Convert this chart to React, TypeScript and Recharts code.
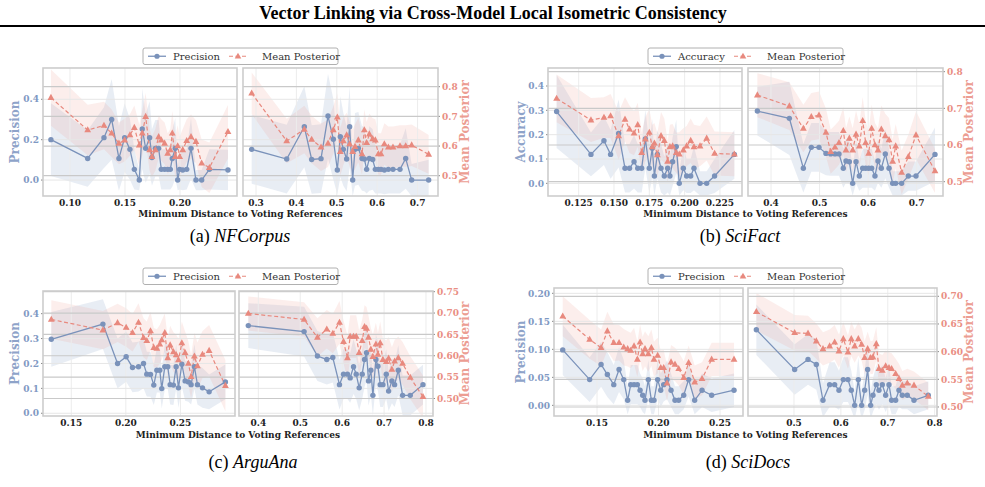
import { Area, ComposedChart, Line, ReferenceLine, XAxis, YAxis } from "recharts";

const BLUE = "#7a92ba";
const RED = "#e8897e";
const BLUE_TXT = "#7f99c3";
const RED_TXT = "#e98e83";
const SERIF = "DejaVu Serif";

// ---- NFCorpus ----
const nfLeftX = [0.0827, 0.1161, 0.1309, 0.1379, 0.1445, 0.1497, 0.1545, 0.1585, 0.163, 0.1657, 0.1688, 0.1724, 0.1745, 0.1776, 0.1806, 0.183, 0.186, 0.1888, 0.1912, 0.193, 0.1957, 0.1979, 0.1997, 0.2025, 0.2061, 0.21, 0.2145, 0.2197, 0.2267, 0.2436];
const nfLeftPrec = [0.2, 0.107, 0.21, 0.3, 0.107, 0.21, 0.152, 0.053, 0, 0.253, 0.157, 0.21, 0.112, 0.157, 0.157, 0.053, 0.053, 0.053, 0.053, 0.107, 0.157, 0, 0.053, 0.05, 0.053, 0.157, 0, 0, 0.053, 0.05];
const nfLeftPost = [0.763, 0.654, 0.669, 0.643, 0.609, 0.62, 0.637, 0.662, 0.603, 0.643, 0.699, 0.587, 0.564, 0.587, 0.631, 0.62, 0.609, 0.575, 0.587, 0.643, 0.564, 0.6, 0.564, 0.587, 0.618, 0.631, 0.615, 0.542, 0.527, 0.648];
const nfLeftPrecErr = [0.18, 0.14, 0.15, 0.2, 0.16, 0.17, 0.15, 0.1, 0.05, 0.2, 0.17, 0.18, 0.14, 0.14, 0.14, 0.1, 0.1, 0.1, 0.1, 0.14, 0.15, 0.05, 0.1, 0.1, 0.1, 0.15, 0.05, 0.05, 0.1, 0.1];
const nfLeftPostErr = [0.095, 0.085, 0.08, 0.08, 0.07, 0.072, 0.07, 0.075, 0.07, 0.075, 0.08, 0.07, 0.068, 0.07, 0.072, 0.07, 0.07, 0.068, 0.07, 0.075, 0.07, 0.07, 0.068, 0.07, 0.072, 0.075, 0.072, 0.08, 0.085, 0.09];

const nfRightX = [0.2893, 0.376, 0.4196, 0.4378, 0.4609, 0.4782, 0.4914, 0.5013, 0.5087, 0.5162, 0.5244, 0.5318, 0.5393, 0.545, 0.5533, 0.5624, 0.5682, 0.5739, 0.5805, 0.5888, 0.5954, 0.6028, 0.6094, 0.6177, 0.6276, 0.6391, 0.6564, 0.6705, 0.6853, 0.7274];
const nfRightPrec = [0.152, 0.104, 0.264, 0.102, 0.106, 0.317, 0.202, 0.05, 0.215, 0.152, 0.104, 0.264, 0, 0.152, 0.157, 0.107, 0.104, 0.053, 0.107, 0.102, 0.053, 0.053, 0.053, 0.05, 0.053, 0.053, 0.053, 0.107, 0, 0];
const nfRightPost = [0.778, 0.617, 0.656, 0.622, 0.596, 0.609, 0.654, 0.697, 0.581, 0.617, 0.637, 0.607, 0.581, 0.598, 0.62, 0.573, 0.654, 0.611, 0.64, 0.624, 0.62, 0.573, 0.573, 0.607, 0.596, 0.596, 0.6, 0.6, 0.603, 0.572];
const nfRightPrecErr = [0.17, 0.17, 0.2, 0.17, 0.17, 0.21, 0.2, 0.12, 0.2, 0.18, 0.16, 0.2, 0.08, 0.18, 0.18, 0.16, 0.16, 0.12, 0.16, 0.15, 0.12, 0.12, 0.12, 0.12, 0.12, 0.12, 0.12, 0.15, 0.08, 0.1];
const nfRightPostErr = [0.07, 0.075, 0.08, 0.08, 0.08, 0.08, 0.08, 0.08, 0.08, 0.08, 0.075, 0.075, 0.075, 0.075, 0.075, 0.07, 0.07, 0.07, 0.07, 0.07, 0.07, 0.07, 0.07, 0.07, 0.07, 0.07, 0.07, 0.07, 0.07, 0.065];

// ---- SciFact ----
const sfLeftX = [0.1094, 0.1337, 0.1429, 0.1476, 0.1533, 0.1578, 0.161, 0.1642, 0.1668, 0.1696, 0.1722, 0.175, 0.1771, 0.1786, 0.1807, 0.1833, 0.1856, 0.188, 0.1896, 0.1915, 0.1941, 0.1962, 0.1991, 0.2014, 0.2043, 0.2066, 0.2109, 0.2156, 0.2212, 0.2352];
const sfLeftAcc = [0.295, 0.119, 0.175, 0.119, 0.205, 0.062, 0.062, 0.089, 0.062, 0.062, 0.182, 0.062, 0.144, 0.03, 0.119, 0.062, 0.03, 0.062, 0.03, 0.089, 0.151, 0, 0.062, 0.03, 0.03, 0.062, 0, 0, 0.03, 0.119];
const sfLeftPost = [0.727, 0.668, 0.675, 0.679, 0.625, 0.67, 0.643, 0.632, 0.655, 0.579, 0.616, 0.634, 0.595, 0.605, 0.573, 0.625, 0.612, 0.555, 0.595, 0.597, 0.579, 0.575, 0.586, 0.597, 0.612, 0.595, 0.597, 0.618, 0.577, 0.575];
const sfLeftAccErr = [0.15, 0.09, 0.1, 0.1, 0.14, 0.1, 0.1, 0.11, 0.1, 0.1, 0.12, 0.1, 0.12, 0.08, 0.1, 0.1, 0.08, 0.1, 0.08, 0.1, 0.11, 0.05, 0.09, 0.07, 0.07, 0.09, 0.05, 0.05, 0.07, 0.1];
const sfLeftPostErr = [0.065, 0.06, 0.055, 0.06, 0.065, 0.06, 0.065, 0.06, 0.06, 0.055, 0.06, 0.065, 0.06, 0.055, 0.06, 0.065, 0.06, 0.055, 0.06, 0.06, 0.055, 0.06, 0.06, 0.055, 0.06, 0.06, 0.055, 0.06, 0.06, 0.06];

const sfRightX = [0.3719, 0.4378, 0.4666, 0.483, 0.4988, 0.5132, 0.5229, 0.5318, 0.54, 0.5489, 0.5544, 0.5613, 0.5682, 0.5751, 0.5819, 0.5888, 0.5949, 0.6011, 0.6073, 0.6141, 0.6203, 0.6272, 0.6354, 0.643, 0.6505, 0.6567, 0.669, 0.6828, 0.6986, 0.7377];
const sfRightAcc = [0.297, 0.267, 0.062, 0.148, 0.148, 0.123, 0.121, 0.121, 0.121, 0.062, 0.092, 0.089, 0, 0.089, 0.03, 0.062, 0.062, 0.062, 0.062, 0.03, 0.092, 0.062, 0.121, 0.062, 0, 0, 0, 0.03, 0.03, 0.119];
const sfRightPost = [0.736, 0.706, 0.645, 0.677, 0.681, 0.634, 0.582, 0.594, 0.606, 0.639, 0.586, 0.618, 0.586, 0.629, 0.597, 0.666, 0.606, 0.577, 0.645, 0.6, 0.586, 0.643, 0.625, 0.614, 0.555, 0.597, 0.525, 0.568, 0.627, 0.529];
const sfRightAccErr = [0.1, 0.15, 0.1, 0.1, 0.1, 0.09, 0.09, 0.09, 0.09, 0.08, 0.09, 0.09, 0.05, 0.09, 0.06, 0.08, 0.08, 0.08, 0.08, 0.06, 0.09, 0.08, 0.1, 0.08, 0.05, 0.05, 0.05, 0.06, 0.06, 0.11];
const sfRightPostErr = [0.06, 0.065, 0.065, 0.065, 0.065, 0.065, 0.06, 0.06, 0.06, 0.065, 0.06, 0.06, 0.06, 0.065, 0.06, 0.065, 0.06, 0.06, 0.065, 0.06, 0.06, 0.065, 0.06, 0.06, 0.06, 0.06, 0.06, 0.06, 0.065, 0.06];

// ---- ArguAna ----
const aaLeftX = [0.1317, 0.179, 0.1924, 0.2003, 0.2061, 0.2116, 0.2162, 0.2192, 0.2226, 0.2256, 0.2284, 0.2311, 0.2329, 0.2357, 0.2384, 0.2406, 0.2436, 0.2461, 0.2482, 0.2513, 0.2543, 0.2573, 0.2598, 0.2628, 0.2656, 0.2702, 0.2763, 0.2912];
const aaLeftPrec = [0.297, 0.358, 0.2, 0.227, 0.184, 0.187, 0.2, 0.157, 0.156, 0.113, 0.173, 0.173, 0.099, 0.187, 0.187, 0.115, 0.113, 0.187, 0.102, 0.197, 0.13, 0.126, 0.115, 0.187, 0.115, 0.102, 0.086, 0.126];
const aaLeftPost = [0.685, 0.66, 0.677, 0.666, 0.654, 0.678, 0.642, 0.635, 0.658, 0.619, 0.617, 0.627, 0.637, 0.654, 0.595, 0.625, 0.609, 0.602, 0.59, 0.63, 0.607, 0.582, 0.551, 0.599, 0.576, 0.603, 0.612, 0.53];
const aaLeftPrecErr = [0.11, 0.1, 0.1, 0.1, 0.1, 0.1, 0.1, 0.09, 0.09, 0.08, 0.09, 0.09, 0.08, 0.09, 0.09, 0.08, 0.08, 0.09, 0.08, 0.09, 0.08, 0.08, 0.08, 0.09, 0.08, 0.08, 0.07, 0.07];
const aaLeftPostErr = [0.045, 0.045, 0.045, 0.045, 0.044, 0.045, 0.046, 0.045, 0.045, 0.046, 0.045, 0.045, 0.046, 0.045, 0.046, 0.045, 0.046, 0.047, 0.05, 0.05, 0.05, 0.052, 0.05, 0.055, 0.055, 0.055, 0.06, 0.06];

const aaRightX = [0.3761, 0.5092, 0.541, 0.5633, 0.5777, 0.5936, 0.6032, 0.6127, 0.6191, 0.6271, 0.6335, 0.6406, 0.6478, 0.6534, 0.6582, 0.6629, 0.6685, 0.6733, 0.6805, 0.6853, 0.6908, 0.6972, 0.7052, 0.7108, 0.7187, 0.7251, 0.7339, 0.7442, 0.7625, 0.7928];
const aaRightPrec = [0.352, 0.328, 0.23, 0.216, 0.224, 0.115, 0.157, 0.157, 0.142, 0.187, 0.157, 0.102, 0.157, 0.216, 0.243, 0.13, 0.173, 0.072, 0.216, 0.189, 0.115, 0.115, 0.157, 0.089, 0.13, 0.115, 0.173, 0.072, 0.072, 0.115];
const aaRightPost = [0.699, 0.685, 0.643, 0.662, 0.652, 0.678, 0.633, 0.595, 0.645, 0.645, 0.645, 0.607, 0.635, 0.668, 0.664, 0.643, 0.615, 0.598, 0.627, 0.603, 0.63, 0.591, 0.586, 0.594, 0.568, 0.587, 0.595, 0.582, 0.549, 0.504];
const aaRightPrecErr = [0.09, 0.1, 0.1, 0.1, 0.1, 0.1, 0.1, 0.1, 0.1, 0.11, 0.1, 0.09, 0.1, 0.11, 0.11, 0.1, 0.1, 0.08, 0.1, 0.1, 0.09, 0.09, 0.1, 0.08, 0.09, 0.09, 0.1, 0.08, 0.08, 0.08];
const aaRightPostErr = [0.04, 0.04, 0.045, 0.045, 0.046, 0.05, 0.05, 0.052, 0.05, 0.05, 0.05, 0.052, 0.05, 0.05, 0.05, 0.05, 0.05, 0.052, 0.05, 0.05, 0.05, 0.05, 0.05, 0.05, 0.052, 0.05, 0.05, 0.05, 0.05, 0.05];

// ---- SciDocs ----
const sdLeftX = [0.1221, 0.144, 0.1533, 0.1584, 0.1636, 0.1679, 0.1717, 0.1749, 0.1774, 0.1801, 0.1828, 0.185, 0.1871, 0.189, 0.1917, 0.1942, 0.1963, 0.1993, 0.2018, 0.2042, 0.2069, 0.2102, 0.2134, 0.2164, 0.2205, 0.2245, 0.2294, 0.2354, 0.2432, 0.2614];
const sdLeftPrec = [0.099, 0.046, 0.073, 0.055, 0.037, 0.064, 0.046, 0.009, 0.037, 0.037, 0.037, 0.027, 0.018, 0.009, 0.046, 0.009, 0.009, 0.046, 0.027, 0.037, 0.046, 0.027, 0.009, 0.009, 0.018, 0.046, 0.009, 0.027, 0.018, 0.027];
const sdLeftPost = [0.664, 0.622, 0.607, 0.637, 0.616, 0.616, 0.608, 0.605, 0.602, 0.61, 0.586, 0.617, 0.596, 0.605, 0.596, 0.607, 0.586, 0.593, 0.571, 0.571, 0.543, 0.581, 0.577, 0.569, 0.553, 0.58, 0.545, 0.551, 0.586, 0.586];
const sdLeftPrecErr = [0.045, 0.04, 0.04, 0.04, 0.035, 0.04, 0.035, 0.025, 0.035, 0.035, 0.035, 0.03, 0.03, 0.025, 0.035, 0.025, 0.025, 0.035, 0.03, 0.03, 0.035, 0.03, 0.025, 0.025, 0.025, 0.03, 0.025, 0.03, 0.03, 0.03];
const sdLeftPostErr = [0.036, 0.035, 0.033, 0.035, 0.033, 0.032, 0.033, 0.032, 0.032, 0.033, 0.032, 0.032, 0.031, 0.032, 0.032, 0.033, 0.032, 0.032, 0.031, 0.032, 0.032, 0.031, 0.03, 0.03, 0.03, 0.031, 0.03, 0.03, 0.03, 0.03];

const sdRightX = [0.4197, 0.5014, 0.5299, 0.5476, 0.5618, 0.576, 0.5867, 0.5959, 0.6052, 0.6151, 0.6222, 0.6294, 0.6372, 0.6443, 0.6507, 0.6571, 0.6635, 0.6684, 0.6755, 0.6812, 0.6883, 0.6955, 0.7026, 0.7082, 0.7168, 0.7239, 0.731, 0.7416, 0.7559, 0.7864];
const sdRightPrec = [0.135, 0.064, 0.082, 0.073, 0.009, 0.037, 0.037, 0.027, 0.046, 0.046, 0.027, 0, 0.046, 0, 0.027, 0.064, 0, 0.018, 0.037, 0.027, 0.037, 0.018, 0.037, 0.009, 0.009, 0.027, 0.018, 0.018, 0.009, 0.018];
const sdRightPost = [0.672, 0.634, 0.633, 0.619, 0.605, 0.61, 0.617, 0.601, 0.623, 0.599, 0.623, 0.61, 0.623, 0.613, 0.589, 0.605, 0.589, 0.59, 0.614, 0.569, 0.566, 0.574, 0.571, 0.569, 0.56, 0.551, 0.539, 0.543, 0.539, 0.519];
const sdRightPrecErr = [0.045, 0.045, 0.045, 0.045, 0.03, 0.04, 0.04, 0.035, 0.04, 0.04, 0.035, 0.025, 0.04, 0.025, 0.035, 0.045, 0.025, 0.03, 0.035, 0.035, 0.035, 0.03, 0.035, 0.025, 0.025, 0.03, 0.025, 0.025, 0.025, 0.025];
const sdRightPostErr = [0.034, 0.032, 0.032, 0.032, 0.03, 0.03, 0.031, 0.03, 0.03, 0.03, 0.031, 0.03, 0.03, 0.03, 0.03, 0.031, 0.03, 0.03, 0.03, 0.028, 0.028, 0.028, 0.028, 0.028, 0.027, 0.027, 0.026, 0.026, 0.025, 0.025];

type Box = { x: number; y: number; w: number; h: number };
type Fmt = (v: number) => string;

const f1: Fmt = (v) => v.toFixed(1);
const f2: Fmt = (v) => v.toFixed(2);
const f3: Fmt = (v) => v.toFixed(3);

const AXW = 40;
const XH = 22;
const TOP = 8; // room above the frame so the top tick label isn't cut

const tickFont = { fontSize: 9, fontWeight: "bold", fontFamily: SERIF };

function Triangle(props: any) {
  const { cx, cy, index } = props;
  if (cx == null || cy == null) return <g key={`t${index}`} />;
  return (
    <path
      key={`t${index}`}
      d={`M${cx},${cy - 3.8}L${cx + 3.4},${cy + 2.3}L${cx - 3.4},${cy + 2.3}Z`}
      fill={RED}
    />
  );
}

type SubplotProps = {
  box: Box;
  side: "left" | "right";
  xDomain: [number, number];
  xTicks: number[];
  xFmt: Fmt;
  lDomain: [number, number];
  lTicks: number[];
  lFmt: Fmt;
  rDomain: [number, number];
  rTicks: number[];
  rFmt: Fmt;
  xs: number[];
  left: number[];
  post: number[];
  leftErr: number[];
  postErr: number[];
};

function Subplot(p: SubplotProps) {
  const rows = p.xs.map((x, i) => ({
    x,
    l: p.left[i],
    m: p.post[i],
    lb: [p.left[i] - p.leftErr[i], p.left[i] + p.leftErr[i]],
    mb: [p.post[i] - p.postErr[i], p.post[i] + p.postErr[i]],
  }));
  const width = p.box.w + AXW;
  const height = p.box.h + XH + TOP;
  const left = p.side === "left" ? p.box.x - AXW : p.box.x;

  return (
    <div style={{ position: "absolute", left, top: p.box.y - TOP, width, height }}>
      <ComposedChart width={width} height={height} data={rows} margin={{ top: TOP, right: 0, bottom: 0, left: 0 }}>
        <XAxis
          dataKey="x"
          type="number"
          domain={p.xDomain}
          ticks={p.xTicks}
          allowDataOverflow
          interval={0}
          height={XH}
          tickFormatter={p.xFmt}
          tick={{ ...tickFont, fill: "#222" }}
          axisLine={false}
          tickLine={false}
          tickSize={0}
          tickMargin={4}
        />
        <YAxis
          yAxisId="l"
          type="number"
          domain={p.lDomain}
          ticks={p.lTicks}
          allowDataOverflow
          interval={0}
          hide={p.side !== "left"}
          width={AXW}
          tickFormatter={p.lFmt}
          tick={{ ...tickFont, fill: BLUE_TXT }}
          axisLine={false}
          tickLine={{ stroke: "#888" }}
          tickSize={2}
          tickMargin={2}
        />
        <YAxis
          yAxisId="r"
          orientation="right"
          type="number"
          domain={p.rDomain}
          ticks={p.rTicks}
          allowDataOverflow
          interval={0}
          hide={p.side !== "right"}
          width={AXW}
          tickFormatter={p.rFmt}
          tick={{ ...tickFont, fill: RED_TXT }}
          axisLine={false}
          tickLine={{ stroke: "#888" }}
          tickSize={2}
          tickMargin={2}
        />
        {p.xTicks.map((t) => (
          <ReferenceLine key={`vx${t}`} yAxisId="l" x={t} stroke="#ececec" strokeWidth={1} />
        ))}
        {p.lTicks.map((t) => (
          <ReferenceLine key={`hl${t}`} yAxisId="l" y={t} stroke="#e6e6e6" strokeWidth={1} />
        ))}
        {p.rTicks.map((t) => (
          <ReferenceLine key={`hr${t}`} yAxisId="r" y={t} stroke="#c9c9c9" strokeWidth={1.2} />
        ))}
        <Area yAxisId="l" dataKey="lb" type="linear" stroke="none" fill="#8ea3c9" fillOpacity={0.2} isAnimationActive={false} />
        <Area yAxisId="r" dataKey="mb" type="linear" stroke="none" fill="#f0a398" fillOpacity={0.18} isAnimationActive={false} />
        <Line
          yAxisId="l"
          dataKey="l"
          type="linear"
          stroke={BLUE}
          strokeWidth={1.3}
          dot={{ r: 2.7, fill: BLUE, stroke: BLUE, strokeWidth: 0 }}
          isAnimationActive={false}
        />
        <Line
          yAxisId="r"
          dataKey="m"
          type="linear"
          stroke={RED}
          strokeWidth={1.2}
          strokeDasharray="4 2.5"
          dot={(props: any) => <Triangle {...props} />}
          isAnimationActive={false}
        />
      </ComposedChart>
    </div>
  );
}

function LegendBox({ x, y, label }: { x: number; y: number; label: string }) {
  const w = 195;
  const h = 16.5;
  const cy = y + h / 2;
  return (
    <g>
      <rect x={x} y={y} width={w} height={h} rx={2} fill="#fff" stroke="#b0b0b0" strokeWidth={1} />
      <line x1={x + 5} x2={x + 23} y1={cy} y2={cy} stroke={BLUE} strokeWidth={1.3} />
      <circle cx={x + 14} cy={cy} r={2.6} fill={BLUE} />
      <text x={x + 30} y={cy} dominantBaseline="central" fontSize={10} fontFamily={SERIF} fill="#333">
        {label}
      </text>
      <line x1={x + 86} x2={x + 104} y1={cy} y2={cy} stroke={RED} strokeWidth={1.2} strokeDasharray="4 2.5" />
      <path d={`M${x + 95},${cy - 3.6}L${x + 98.3},${cy + 2.2}L${x + 91.7},${cy + 2.2}Z`} fill={RED} />
      <text x={x + 119} y={cy} dominantBaseline="central" fontSize={10} fontFamily={SERIF} fill="#333">
        Mean Posterior
      </text>
    </g>
  );
}

type PanelText = {
  boxes: [Box, Box];
  legendX: number;
  legendY: number;
  leftLabel: string;
  leftLabelX: number;
  rightLabelX: number;
  xLabelY: number;
  caption: string;
  capX: number;
  capY: number;
};

const panels: PanelText[] = [
  {
    boxes: [{ x: 43, y: 68, w: 194, h: 128 }, { x: 243, y: 68, w: 195, h: 128 }],
    legendX: 143, legendY: 48, leftLabel: "Precision", leftLabelX: 15, rightLabelX: 465,
    xLabelY: 214, caption: "NFCorpus", capX: 240, capY: 236,
  },
  {
    boxes: [{ x: 548, y: 68, w: 194, h: 128 }, { x: 748, y: 68, w: 195, h: 128 }],
    legendX: 648, legendY: 48, leftLabel: "Accuracy", leftLabelX: 521, rightLabelX: 969,
    xLabelY: 214, caption: "SciFact", capX: 740, capY: 236,
  },
  {
    boxes: [{ x: 43, y: 291, w: 192, h: 125 }, { x: 239, y: 291, w: 194, h: 125 }],
    legendX: 143, legendY: 268, leftLabel: "Precision", leftLabelX: 15, rightLabelX: 465,
    xLabelY: 435, caption: "ArguAna", capX: 253, capY: 462,
  },
  {
    boxes: [{ x: 554, y: 288, w: 189, h: 128 }, { x: 748, y: 288, w: 189, h: 128 }],
    legendX: 648, legendY: 268, leftLabel: "Precision", leftLabelX: 521, rightLabelX: 969,
    xLabelY: 435, caption: "SciDocs", capX: 748, capY: 462,
  },
];

const letters = ["(a)", "(b)", "(c)", "(d)"];

export default function App() {
  const [a, b, c, d] = panels;
  return (
    <div style={{ position: "absolute", left: 0, top: 0, width: 985, height: 487, background: "#fff", overflow: "hidden" }}>
      {/* NFCorpus */}
      <Subplot box={a.boxes[0]} side="left" xDomain={[0.0755, 0.2518]} xTicks={[0.1, 0.15, 0.2]} xFmt={f2}
        lDomain={[-0.079, 0.555]} lTicks={[0, 0.2, 0.4]} lFmt={f1} rDomain={[0.4316, 0.863]} rTicks={[0.5, 0.6, 0.7, 0.8]} rFmt={f1}
        xs={nfLeftX} left={nfLeftPrec} post={nfLeftPost} leftErr={nfLeftPrecErr} postErr={nfLeftPostErr} />
      <Subplot box={a.boxes[1]} side="right" xDomain={[0.2678, 0.7505]} xTicks={[0.3, 0.4, 0.5, 0.6, 0.7]} xFmt={f1}
        lDomain={[-0.079, 0.555]} lTicks={[0, 0.2, 0.4]} lFmt={f1} rDomain={[0.4316, 0.863]} rTicks={[0.5, 0.6, 0.7, 0.8]} rFmt={f1}
        xs={nfRightX} left={nfRightPrec} post={nfRightPost} leftErr={nfRightPrecErr} postErr={nfRightPostErr} />
      {/* SciFact */}
      <Subplot box={b.boxes[0]} side="left" xDomain={[0.1033, 0.2406]} xTicks={[0.125, 0.15, 0.175, 0.2, 0.225]} xFmt={f3}
        lDomain={[-0.052, 0.474]} lTicks={[0, 0.1, 0.2, 0.3, 0.4]} lFmt={f1} rDomain={[0.461, 0.81]} rTicks={[0.5, 0.6, 0.7, 0.8]} rFmt={f1}
        xs={sfLeftX} left={sfLeftAcc} post={sfLeftPost} leftErr={sfLeftAccErr} postErr={sfLeftPostErr} />
      <Subplot box={b.boxes[1]} side="right" xDomain={[0.3526, 0.7542]} xTicks={[0.4, 0.5, 0.6, 0.7]} xFmt={f1}
        lDomain={[-0.052, 0.474]} lTicks={[0, 0.1, 0.2, 0.3, 0.4]} lFmt={f1} rDomain={[0.461, 0.81]} rTicks={[0.5, 0.6, 0.7, 0.8]} rFmt={f1}
        xs={sfRightX} left={sfRightAcc} post={sfRightPost} leftErr={sfRightAccErr} postErr={sfRightPostErr} />
      {/* ArguAna */}
      <Subplot box={c.boxes[0]} side="left" xDomain={[0.1241, 0.3]} xTicks={[0.15, 0.2, 0.25]} xFmt={f2}
        lDomain={[-0.011, 0.491]} lTicks={[0, 0.1, 0.2, 0.3, 0.4]} lFmt={f1} rDomain={[0.459, 0.7516]} rTicks={[0.5, 0.55, 0.6, 0.65, 0.7, 0.75]} rFmt={f2}
        xs={aaLeftX} left={aaLeftPrec} post={aaLeftPost} leftErr={aaLeftPrecErr} postErr={aaLeftPostErr} />
      <Subplot box={c.boxes[1]} side="right" xDomain={[0.3539, 0.8167]} xTicks={[0.4, 0.5, 0.6, 0.7, 0.8]} xFmt={f1}
        lDomain={[-0.011, 0.491]} lTicks={[0, 0.1, 0.2, 0.3, 0.4]} lFmt={f1} rDomain={[0.459, 0.7516]} rTicks={[0.5, 0.55, 0.6, 0.65, 0.7, 0.75]} rFmt={f2}
        xs={aaRightX} left={aaRightPrec} post={aaRightPost} leftErr={aaRightPrecErr} postErr={aaRightPostErr} />
      {/* SciDocs */}
      <Subplot box={d.boxes[0]} side="left" xDomain={[0.115, 0.2687]} xTicks={[0.15, 0.2, 0.25]} xFmt={f2}
        lDomain={[-0.019, 0.2095]} lTicks={[0, 0.05, 0.1, 0.15, 0.2]} lFmt={f2} rDomain={[0.4837, 0.715]} rTicks={[0.5, 0.55, 0.6, 0.65, 0.7]} rFmt={f2}
        xs={sdLeftX} left={sdLeftPrec} post={sdLeftPost} leftErr={sdLeftPrecErr} postErr={sdLeftPostErr} />
      <Subplot box={d.boxes[1]} side="right" xDomain={[0.4019, 0.805]} xTicks={[0.5, 0.6, 0.7, 0.8]} xFmt={f1}
        lDomain={[-0.019, 0.2095]} lTicks={[0, 0.05, 0.1, 0.15, 0.2]} lFmt={f2} rDomain={[0.4837, 0.715]} rTicks={[0.5, 0.55, 0.6, 0.65, 0.7]} rFmt={f2}
        xs={sdRightX} left={sdRightPrec} post={sdRightPost} leftErr={sdRightPrecErr} postErr={sdRightPostErr} />

      <svg width={985} height={487} style={{ position: "absolute", left: 0, top: 0, pointerEvents: "none" }}>
        <text x={493} y={13} textAnchor="middle" dominantBaseline="central" fontFamily="Liberation Serif" fontWeight="bold" fontSize={18} fill="#000">
          Vector Linking via Cross-Model Local Isometric Consistency
        </text>
        <line x1={0} x2={985} y1={26} y2={26} stroke="#000" strokeWidth={2} />
        {panels.map((pn, i) => {
          const [l, r] = pn.boxes;
          const midY = l.y + l.h / 2;
          const xMid = (l.x + r.x + r.w) / 2;
          return (
            <g key={pn.caption}>
              <rect x={l.x} y={l.y} width={l.w} height={l.h} fill="none" stroke="#cdcdcd" strokeWidth={1.6} />
              <rect x={r.x} y={r.y} width={r.w} height={r.h} fill="none" stroke="#cdcdcd" strokeWidth={1.6} />
              <LegendBox x={pn.legendX} y={pn.legendY} label={pn.leftLabel} />
              <text transform={`translate(${pn.leftLabelX},${midY}) rotate(-90)`} textAnchor="middle" dominantBaseline="central"
                fontFamily={SERIF} fontWeight="bold" fontSize={12} fill="#8ea3c9">
                {pn.leftLabel}
              </text>
              <text transform={`translate(${pn.rightLabelX},${midY}) rotate(-90)`} textAnchor="middle" dominantBaseline="central"
                fontFamily={SERIF} fontWeight="bold" fontSize={12} fill="#ec9d92">
                Mean Posterior
              </text>
              <text x={xMid} y={pn.xLabelY} textAnchor="middle" dominantBaseline="central" fontFamily={SERIF} fontWeight="bold" fontSize={9} fill="#222">
                Minimum Distance to Voting References
              </text>
              <text x={pn.capX} y={pn.capY} textAnchor="middle" dominantBaseline="central" fontFamily="Liberation Serif" fontSize={18} fill="#000">
                {letters[i]} <tspan fontStyle="italic">{pn.caption}</tspan>
              </text>
            </g>
          );
        })}
      </svg>
    </div>
  );
}
